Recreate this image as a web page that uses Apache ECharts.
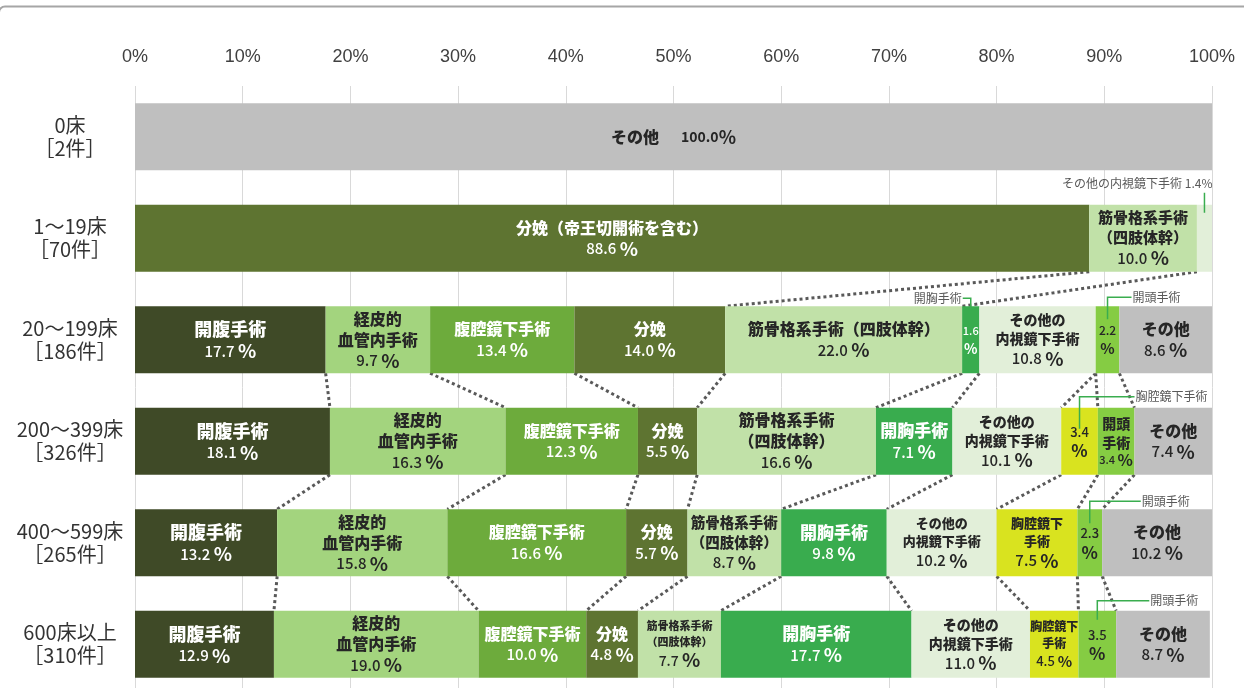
<!DOCTYPE html>
<html>
<head>
<meta charset="utf-8">
<script src="https://cdn.jsdelivr.net/npm/echarts@6/dist/echarts.min.js"></script>
<style>
  html, body { margin: 0; padding: 0; background: #fff; }
  #chart { width: 1244px; height: 688px; }
</style>
</head>
<body>
<div id="chart"></div>
<script>
// 病床規模別 手術の内訳（%）
const categories = ['0床\n［2件］', '1～19床\n［70件］', '20～199床\n［186件］', '200～399床\n［326件］', '400～599床\n［265件］', '600床以上\n［310件］'];
const surgeryTypes = ['開腹手術', '経皮的血管内手術', '腹腔鏡下手術', '分娩', '筋骨格系手術（四肢体幹）', '開胸手術', 'その他の内視鏡下手術', '胸腔鏡下手術', '開頭手術', 'その他'];

const kaifuku = [0, 0, 17.7, 18.1, 13.2, 12.9];
const keihi = [0, 0, 9.7, 16.3, 15.8, 19.0];
const fukukukyo = [0, 0, 13.4, 12.3, 16.6, 10.0];
const bunben = [0, 88.6, 14.0, 5.5, 5.7, 4.8];
const kinkokkaku = [0, 10.0, 22.0, 16.6, 8.7, 7.7];
const kaikyo = [0, 0, 1.6, 7.1, 9.8, 17.7];
const naishikyo = [0, 1.4, 10.8, 10.1, 10.2, 11.0];
const kyokukyo = [0, 0, 0, 3.4, 7.5, 4.5];
const kaito = [0, 0, 2.2, 3.4, 2.3, 3.5];
const sonota = [100.0, 0, 8.6, 7.4, 10.2, 8.7];
const seriesValues = [kaifuku, keihi, fukukukyo, bunben, kinkokkaku, kaikyo, naishikyo, kyokukyo, kaito, sonota];

// bar label names ('' = value only, null = no label inside the bar)
const labelNames = ['開腹手術', '経皮的\n血管内手術', '腹腔鏡下手術', '分娩', '筋骨格系手術\n（四肢体幹）', '開胸手術', 'その他の\n内視鏡下手術', '胸腔鏡下\n手術', '', 'その他'];
const labelNameOverrides = {
  '1,3': '分娩（帝王切開術を含む）',
  '1,6': null,
  '2,4': '筋骨格系手術（四肢体幹）',
  '2,5': '',
  '3,7': '',
  '3,8': '開頭\n手術'
};
// callouts: [row, series index, text]
const callouts = [
  [1, 6, 'その他の内視鏡下手術 1.4%'],
  [2, 5, '開胸手術'],
  [2, 8, '開頭手術'],
  [3, 7, '胸腔鏡下手術'],
  [4, 8, '開頭手術'],
  [5, 8, '開頭手術']
];
// series lines between rows: [upper row, series indices]
const seriesLineGaps = [
  [1, [3, 4]],
  [2, [0, 1, 2, 3, 4, 5, 6, 7, 8]],
  [3, [0, 1, 2, 3, 4, 5, 6, 7, 8]],
  [4, [0, 1, 2, 3, 4, 5, 6, 7, 8]]
];

// ---- styles ----
const colors = ['#3f4a27', '#a3d47e', '#6dab3c', '#5e7431', '#c1e1a8', '#39ac4e', '#e2efd9', '#d9e31f', '#85cc43', '#bfbfbf'];
const whiteText = [true, false, true, true, false, true, false, false, false, false];
const nameSize = [18, 16, 16, 16, 16, 17, 14, 13, 14, 16];
const cellStyle = {
  '0,9': { name: 16, value: 14, pct: 18, valueWeight: 'bold' },
  '1,4': { name: 15 },
  '2,5': { value: 11, pct: 14 },
  '2,8': { value: 12, pct: 15 },
  '3,7': { value: 13, pct: 17 },
  '3,8': { name: 14, value: 11, pct: 16 },
  '4,4': { name: 14.5 },
  '4,6': { name: 13 },
  '4,8': { value: 13, pct: 17 },
  '5,4': { name: 11, value: 14 },
  '5,7': { name: 12, value: 13, pct: 15 },
  '5,8': { value: 13, pct: 17 }
};
// callout geometry: dir, horizontal reach, rise above bar, drop into bar
const calloutGeo = [
  { dir: 'up', reach: 8, rise: 12, drop: 8 },
  { dir: 'left', reach: 8, rise: 8, drop: 4 },
  { dir: 'right', reach: 24, rise: 9, drop: 13 },
  { dir: 'right', reach: 55, rise: 11, drop: 21 },
  { dir: 'right', reach: 51, rise: 8, drop: 14 },
  { dir: 'right', reach: 52, rise: 10, drop: 9 }
];
const FONT = '"Noto Sans CJK JP", "Noto Sans", sans-serif';
const GAP = 0.34;

function cellLabel(r, k, v) {
  const key = r + ',' + k;
  const name = key in labelNameOverrides ? labelNameOverrides[key] : labelNames[k];
  if (!v || name === null) return { show: false };
  const st = Object.assign({ name: nameSize[k], value: 15, pct: 19, valueWeight: 500 }, cellStyle[key] || {});
  const color = whiteText[k] ? '#ffffff' : '#262626';
  const val = v.toFixed(1);
  let text;
  if (r === 0) {
    text = '{n|' + name + '}{v|' + val + '}{p|%}';
  } else if (name) {
    text = name.split('\n').map(s => '{n|' + s + '}').join('\n') + '\n{v|' + val + ' }{p|%}';
  } else {
    text = '{v|' + val + '}\n{p|%}';
  }
  return {
    show: true,
    position: 'inside',
    formatter: text,
    rich: {
      n: { fontSize: st.name, fontWeight: 900, color: color, fontFamily: FONT, lineHeight: Math.round(st.name + 5),
           padding: r === 0 ? [0, 22, 0, 0] : 0 },
      v: { fontSize: st.value, fontWeight: st.valueWeight, color: color, fontFamily: FONT, lineHeight: st.value + 6 },
      p: { fontSize: st.pct, fontWeight: 'bold', color: color, fontFamily: FONT, lineHeight: st.value + 6 }
    }
  };
}

function cumEnd(r, k) {
  let s = 0;
  for (let i = 0; i <= k; i++) s += seriesValues[i][r];
  return Math.round(s * 10) / 10;
}

const barSeries = surgeryTypes.map((name, k) => ({
  name: name,
  type: 'bar',
  stack: 'total',
  barCategoryGap: GAP * 100 + '%',
  itemStyle: { color: colors[k] },
  emphasis: { disabled: true },
  data: seriesValues[k].map((v, r) => ({ value: v, label: cellLabel(r, k, v) }))
}));

const lineData = [];
seriesLineGaps.forEach(([r, ks]) => {
  ks.forEach(k => lineData.push([cumEnd(r, k), r, cumEnd(r + 1, k), r + 1]));
});

const calloutData = callouts.map(([r, k, text], i) => {
  const end = cumEnd(r, k);
  return [end - seriesValues[k][r] / 2, r, i];
});

const chart = echarts.init(document.getElementById('chart'));
chart.setOption({
  animation: false,
  graphic: [{
    type: 'rect',
    shape: { x: -1, y: 6.5, width: 1400, height: 900, r: 6 },
    style: { fill: 'none', stroke: '#a6a6a6', lineWidth: 2 },
    silent: true
  }],
  grid: { left: 135, right: 32, top: 86, bottom: -7, containLabel: false, outerBoundsMode: 'none' },
  xAxis: {
    type: 'value',
    position: 'top',
    min: 0,
    max: 100,
    interval: 10,
    axisLine: { show: false },
    axisTick: { show: false },
    axisLabel: { formatter: '{value}%', color: '#404040', fontSize: 18, fontFamily: '"Liberation Sans", sans-serif', margin: 20 },
    splitLine: { lineStyle: { color: '#d9d9d9', width: 1 } }
  },
  yAxis: {
    type: 'category',
    inverse: true,
    data: categories,
    axisLine: { show: false },
    axisTick: { show: false },
    axisLabel: {
      color: '#333333',
      fontSize: 20,
      fontFamily: FONT,
      lineHeight: 23,
      align: 'center',
      margin: 65,
      padding: [23, 0, 0, 0]
    }
  },
  series: barSeries.concat([
    {
      type: 'custom',
      name: 'series lines',
      silent: true,
      z: 1,
      encode: { x: [0, 2], y: [1, 3] },
      data: lineData,
      renderItem: function (params, api) {
        const p1 = api.coord([api.value(0), api.value(1)]);
        const p2 = api.coord([api.value(2), api.value(3)]);
        const half = api.size([0, 1])[1] * (1 - GAP) / 2;
        return {
          type: 'line',
          shape: { x1: p1[0], y1: p1[1] + half, x2: p2[0], y2: p2[1] - half },
          style: { stroke: '#595959', lineWidth: 3, lineDash: [3, 3] }
        };
      }
    },
    {
      type: 'custom',
      name: 'callouts',
      silent: true,
      z: 5,
      encode: { x: 0, y: 1 },
      data: calloutData,
      renderItem: function (params, api) {
        const p = api.coord([api.value(0), api.value(1)]);
        const i = api.value(2);
        const g = calloutGeo[i];
        const top = p[1] - api.size([0, 1])[1] * (1 - GAP) / 2;
        const yT = top - g.rise;
        let pts, tx, align;
        if (g.dir === 'up') {
          pts = [[p[0], top + g.drop], [p[0], yT]];
          tx = p[0] + g.reach; align = 'right';
        } else if (g.dir === 'left') {
          pts = [[p[0], top + g.drop], [p[0], yT], [p[0] - g.reach, yT]];
          tx = p[0] - g.reach - 1; align = 'right';
        } else {
          pts = [[p[0], top + g.drop], [p[0], yT], [p[0] + g.reach, yT]];
          tx = p[0] + g.reach + 1; align = 'left';
        }
        const ty = g.dir === 'up' ? yT - 9 : yT;
        return {
          type: 'group',
          children: [
            { type: 'polyline', shape: { points: pts }, style: { stroke: '#3aad4f', lineWidth: 1.5, fill: 'none' } },
            { type: 'text', x: tx, y: ty,
              style: { text: callouts[i][2], fill: '#595959', fontSize: 12, fontFamily: FONT,
                       align: align, verticalAlign: 'middle', textAlign: align, textVerticalAlign: 'middle' } }
          ]
        };
      }
    }
  ])
});
</script>
</body>
</html>
